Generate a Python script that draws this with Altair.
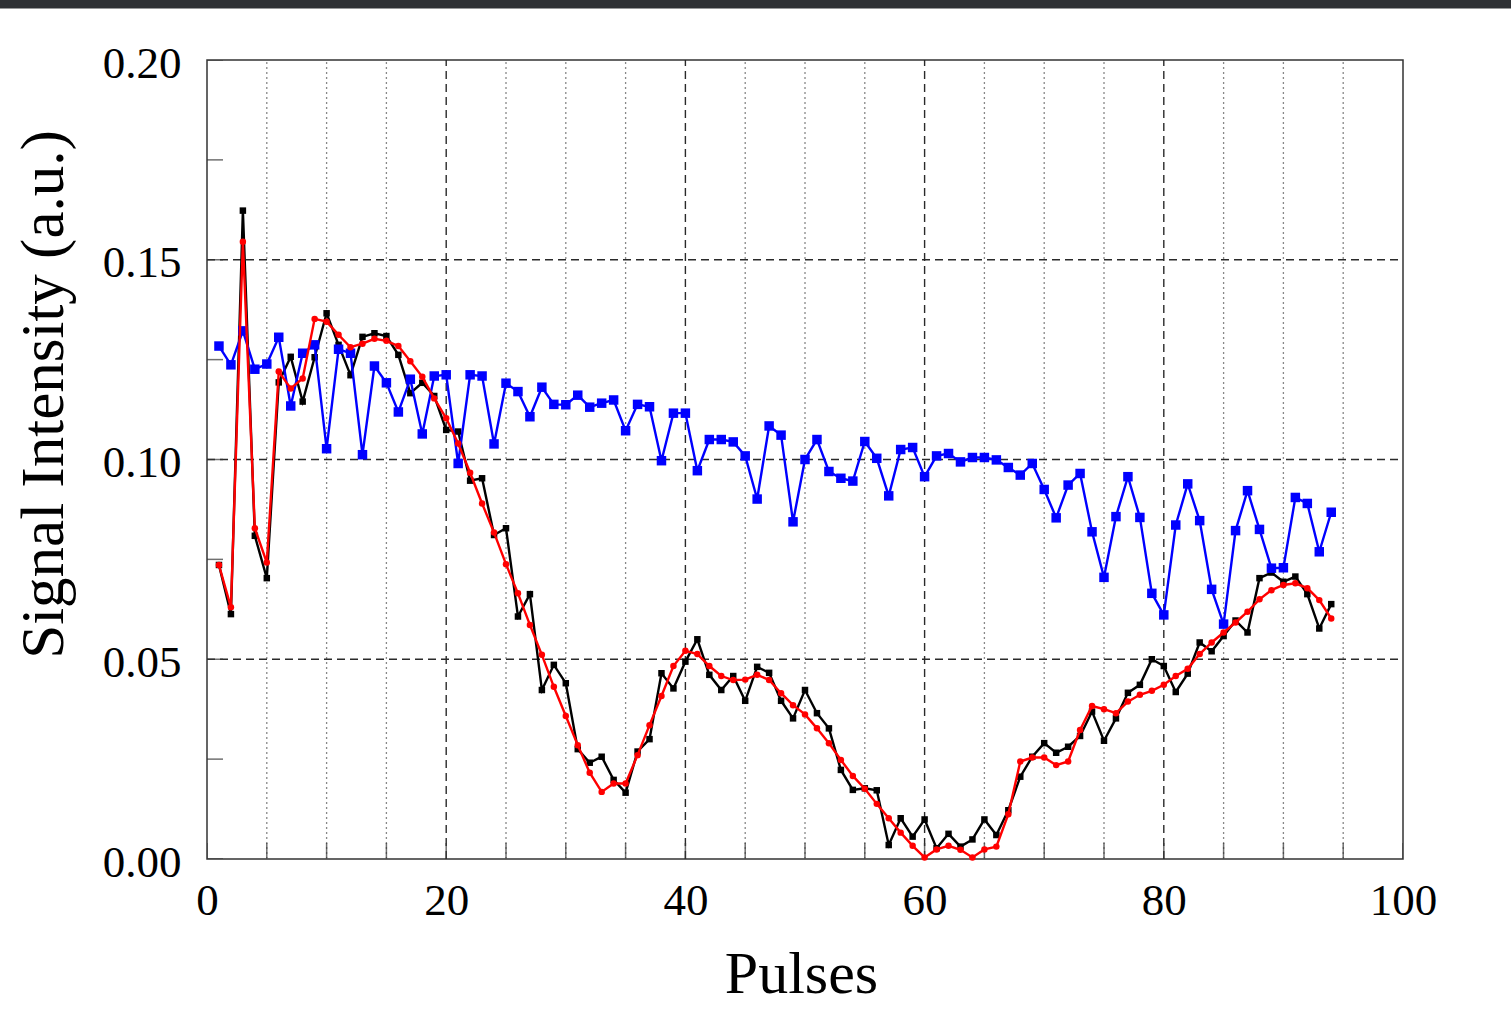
import altair as alt
import pandas as pd

# Pulse index (1..94) and the three measured signal traces
pulses = list(range(1, 95))

blue_vals = [
    0.1284, 0.1237, 0.1322, 0.1226, 0.1239, 0.1306, 0.1134, 0.1266, 0.1287, 0.1027,
    0.1276, 0.1266, 0.1012, 0.1234, 0.1192, 0.1119, 0.1201, 0.1064, 0.1209, 0.1212,
    0.0990, 0.1212, 0.1209, 0.1039, 0.1191, 0.1170, 0.1107, 0.1181, 0.1138, 0.1137,
    0.1161, 0.1131, 0.1141, 0.1149, 0.1072, 0.1138, 0.1132, 0.0997, 0.1116, 0.1116,
    0.0972, 0.1050, 0.1050, 0.1044, 0.1009, 0.0901, 0.1084, 0.1061, 0.0844, 0.1000,
    0.1050, 0.0970, 0.0953, 0.0946, 0.1045, 0.1003, 0.0909, 0.1025, 0.1030, 0.0957,
    0.1009, 0.1015, 0.0994, 0.1005, 0.1005, 0.0999, 0.0980, 0.0961, 0.0990, 0.0925,
    0.0854, 0.0936, 0.0965, 0.0819, 0.0705, 0.0857, 0.0957, 0.0855, 0.0665, 0.0611,
    0.0836, 0.0939, 0.0847, 0.0675, 0.0588, 0.0822, 0.0922, 0.0825, 0.0728, 0.0729,
    0.0905, 0.0890, 0.0769, 0.0868,
]

black_vals = [
    0.0736, 0.0613, 0.1623, 0.0809, 0.0703, 0.1193, 0.1257, 0.1145, 0.1256, 0.1366,
    0.1287, 0.1211, 0.1307, 0.1316, 0.1309, 0.1262, 0.1166, 0.1192, 0.1159, 0.1074,
    0.1070, 0.0947, 0.0953, 0.0811, 0.0828, 0.0607, 0.0663, 0.0423, 0.0486, 0.0440,
    0.0275, 0.0241, 0.0256, 0.0198, 0.0166, 0.0269, 0.0300, 0.0465, 0.0427, 0.0494,
    0.0550, 0.0461, 0.0423, 0.0458, 0.0396, 0.0481, 0.0466, 0.0396, 0.0352, 0.0423,
    0.0365, 0.0327, 0.0223, 0.0173, 0.0177, 0.0172, 0.0035, 0.0102, 0.0056, 0.0099,
    0.0027, 0.0063, 0.0031, 0.0049, 0.0099, 0.0060, 0.0122, 0.0206, 0.0256, 0.0290,
    0.0266, 0.0281, 0.0308, 0.0369, 0.0296, 0.0352, 0.0416, 0.0436, 0.0500, 0.0483,
    0.0418, 0.0464, 0.0542, 0.0520, 0.0558, 0.0597, 0.0567, 0.0703, 0.0717, 0.0694,
    0.0707, 0.0663, 0.0577, 0.0638,
]

red_vals = [
    0.0736, 0.0630, 0.1545, 0.0828, 0.0742, 0.1220, 0.1178, 0.1203, 0.1352, 0.1345,
    0.1312, 0.1281, 0.1290, 0.1302, 0.1297, 0.1284, 0.1246, 0.1207, 0.1153, 0.1103,
    0.1040, 0.0967, 0.0890, 0.0817, 0.0738, 0.0665, 0.0586, 0.0511, 0.0431, 0.0358,
    0.0285, 0.0216, 0.0168, 0.0189, 0.0189, 0.0260, 0.0335, 0.0408, 0.0483, 0.0521,
    0.0513, 0.0483, 0.0458, 0.0448, 0.0449, 0.0461, 0.0448, 0.0415, 0.0385, 0.0362,
    0.0327, 0.0290, 0.0248, 0.0208, 0.0176, 0.0138, 0.0102, 0.0066, 0.0033, 0.0004,
    0.0024, 0.0033, 0.0023, 0.0004, 0.0024, 0.0031, 0.0112, 0.0244, 0.0254, 0.0254,
    0.0235, 0.0244, 0.0323, 0.0383, 0.0375, 0.0365, 0.0394, 0.0411, 0.0421, 0.0436,
    0.0458, 0.0476, 0.0513, 0.0542, 0.0567, 0.0592, 0.0619, 0.0650, 0.0673, 0.0686,
    0.0690, 0.0678, 0.0648, 0.0602,
]

# Axis ticks / labels
x_label_values = [0, 20, 40, 60, 80, 100]
x_minor_grid = [5, 10, 15, 25, 30, 35, 45, 50, 55, 65, 70, 75, 85, 90, 95]
x_major_grid = [20, 40, 60, 80]
x_tick_values = list(range(0, 101, 5))
y_label_values = [0.0, 0.05, 0.10, 0.15, 0.20]
y_major_grid = [0.05, 0.10, 0.15]
y_tick_values = [0.0, 0.025, 0.05, 0.075, 0.10, 0.125, 0.15, 0.175, 0.20]

FONT = "Liberation Serif"
W, H = 1196, 799

x_scale = alt.Scale(domain=[0, 100], nice=False, zero=False)
y_scale = alt.Scale(domain=[0, 0.2], nice=False, zero=False)

x_axis = alt.Axis(
    values=x_label_values, domain=False, ticks=False, grid=False,
    labelFont=FONT, labelFontSize=45, labelColor="black", labelPadding=19,
    labelFlush=False,
    title="Pulses", titleFont=FONT, titleFontSize=60, titleFontWeight="normal",
    titleColor="black", titleX=594, titleY=133, titleBaseline="alphabetic",
)
y_axis = alt.Axis(
    values=y_label_values, format=".2f", domain=False, ticks=False, grid=False,
    labelFont=FONT, labelFontSize=45, labelColor="black", labelPadding=26,
    labelFlush=False, labelOffset=3,
    title="Signal Intensity (a.u.)", titleFont=FONT, titleFontSize=61,
    titleFontWeight="normal", titleColor="black", titleX=-145, titleY=334,
    titleBaseline="alphabetic", titleAlign="center",
)

# Grid lines
minor_df = pd.DataFrame({"x": x_minor_grid, "y0": 0.0, "y1": 0.2})
major_df = pd.DataFrame({"x": x_major_grid, "y0": 0.0, "y1": 0.2})
ygrid_df = pd.DataFrame({"y": y_major_grid, "x0": 0.0, "x1": 100.0})

minor_grid = alt.Chart(minor_df).mark_rule(
    color="#888888", strokeWidth=1.3, strokeDash=[2, 3]
).encode(
    x=alt.X("x:Q", scale=x_scale, axis=x_axis),
    y=alt.Y("y0:Q", scale=y_scale, axis=y_axis),
    y2="y1:Q",
)
major_grid = alt.Chart(major_df).mark_rule(
    color="#2a2a2a", strokeWidth=1.4, strokeDash=[8, 5]
).encode(x=alt.X("x:Q", scale=x_scale), y=alt.Y("y0:Q", scale=y_scale), y2="y1:Q")
y_grid = alt.Chart(ygrid_df).mark_rule(
    color="#2a2a2a", strokeWidth=1.4, strokeDash=[8, 5]
).encode(y=alt.Y("y:Q", scale=y_scale), x=alt.X("x0:Q", scale=x_scale), x2="x1:Q")

# Inward tick marks (half of each tick is clipped by the plot frame)
xt_df = pd.DataFrame({"x": x_tick_values, "y": 0.0})
yt_df = pd.DataFrame({"y": y_tick_values, "x": 0.0})
x_ticks = alt.Chart(xt_df).mark_tick(
    color="#333333", size=32, thickness=1.5, clip=True, orient="vertical"
).encode(x=alt.X("x:Q", scale=x_scale), y=alt.Y("y:Q", scale=y_scale))
y_ticks = alt.Chart(yt_df).mark_tick(
    color="#333333", size=32, thickness=1.5, clip=True, orient="horizontal"
).encode(x=alt.X("x:Q", scale=x_scale), y=alt.Y("y:Q", scale=y_scale))


def trace(values, color, shape, size):
    df = pd.DataFrame({"pulse": pulses, "signal": values})
    base = alt.Chart(df).encode(
        x=alt.X("pulse:Q", scale=x_scale),
        y=alt.Y("signal:Q", scale=y_scale),
    )
    line = base.mark_line(color=color, strokeWidth=2.4)
    pts = base.mark_point(color=color, fill=color, filled=True, shape=shape,
                          size=size, opacity=1)
    return line + pts


black_trace = trace(black_vals, "#000000", "square", 42)
blue_trace = trace(blue_vals, "#0000ff", "square", 90)
red_trace = trace(red_vals, "#ff0000", "circle", 42)

# Dark strip along the top edge of the page
top_strip = alt.Chart(pd.DataFrame({"k": [0]})).mark_rule(
    color="#2e3034", strokeWidth=9
).encode(x=alt.value(-207), x2=alt.value(1304), y=alt.value(-56))

chart = alt.layer(
    minor_grid, major_grid, y_grid, x_ticks, y_ticks,
    black_trace, blue_trace, red_trace, top_strip,
).properties(
    width=W, height=H,
    autosize=alt.AutoSizeParams(type="none"),
    padding={"left": 207, "top": 60, "right": 108, "bottom": 174},
    background="white",
).configure_view(
    stroke="#333333", strokeWidth=1.5
)

chart.save("out.html", embed_options={"renderer": "svg", "actions": False})
